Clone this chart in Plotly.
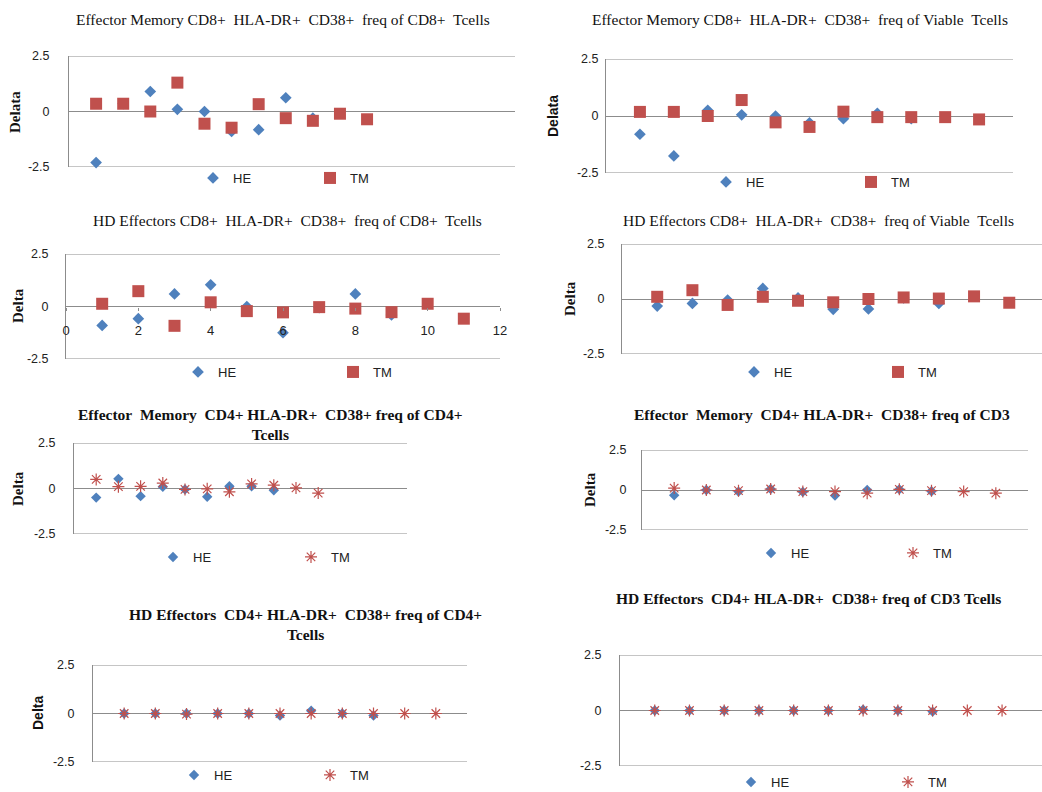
import plotly.graph_objects as go

W, H = 1042, 792

# ---------------- data ----------------
subjects_he = [1, 2, 3, 4, 5, 6, 7, 8, 9]
subjects_tm = [1, 2, 3, 4, 5, 6, 7, 8, 9, 10, 11]

em_cd8_of_cd8_he = [-2.3, 0.35, 0.9, 0.1, 0.0, -0.9, -0.82, 0.62, -0.3]
em_cd8_of_cd8_tm = [0.35, 0.35, 0.0, 1.3, -0.55, -0.73, 0.33, -0.3, -0.42, -0.1, -0.35]

em_cd8_of_viable_he = [-0.8, -1.75, 0.25, 0.05, 0.0, -0.3, -0.12, 0.12, -0.12]
em_cd8_of_viable_tm = [0.18, 0.18, 0.0, 0.7, -0.28, -0.48, 0.19, -0.05, -0.05, -0.05, -0.15]

hd_cd8_of_cd8_he = [-0.9, -0.58, 0.6, 1.03, 0.0, -1.25, -0.05, 0.6, -0.4]
hd_cd8_of_cd8_tm = [0.13, 0.73, -0.92, 0.2, -0.22, -0.28, -0.03, -0.1, -0.27, 0.13, -0.58]

hd_cd8_of_viable_he = [-0.32, -0.2, -0.05, 0.48, 0.05, -0.47, -0.45, 0.05, -0.2]
hd_cd8_of_viable_tm = [0.1, 0.4, -0.27, 0.1, -0.08, -0.15, 0.0, 0.07, 0.02, 0.12, -0.17]

em_cd4_of_cd4_he = [-0.5, 0.53, -0.42, 0.1, -0.05, -0.45, 0.12, 0.12, -0.1]
em_cd4_of_cd4_tm = [0.5, 0.1, 0.12, 0.3, -0.05, -0.02, -0.18, 0.25, 0.18, 0.03, -0.25]

em_cd4_of_cd3_he = [-0.33, 0.0, -0.1, 0.06, -0.12, -0.35, 0.0, 0.04, -0.08]
em_cd4_of_cd3_tm = [0.12, 0.0, -0.04, 0.06, -0.1, -0.1, -0.2, 0.04, -0.04, -0.1, -0.2]

hd_cd4_of_cd4_he = [0.0, 0.0, 0.0, 0.0, 0.0, -0.1, 0.14, 0.0, -0.1]
hd_cd4_of_cd4_tm = [0.0, 0.0, -0.03, 0.0, 0.0, 0.0, 0.0, 0.0, 0.0, 0.0, 0.0]

hd_cd4_of_cd3_he = [0.0, 0.0, 0.0, 0.0, 0.0, 0.0, 0.04, 0.0, -0.05]
hd_cd4_of_cd3_tm = [0.0, 0.0, 0.0, 0.0, 0.0, 0.0, 0.0, 0.0, 0.0, 0.0, 0.0]

y_ticks = [-2.5, 0, 2.5]
y_ticktext = ["-2.5", "0", "2.5"]
y_limits = [-2.5, 2.5]
x_ticks_p3 = [0, 2, 4, 6, 8, 10, 12]

NB = "\u00a0"
titles = [
    f"Effector Memory CD8+{NB} HLA-DR+{NB} CD38+{NB} freq of CD8+{NB} Tcells",
    f"Effector Memory CD8+{NB} HLA-DR+{NB} CD38+{NB} freq of Viable{NB} Tcells",
    f"HD Effectors CD8+{NB} HLA-DR+{NB} CD38+{NB} freq of CD8+{NB} Tcells",
    f"HD Effectors CD8+{NB} HLA-DR+{NB} CD38+{NB} freq of Viable{NB} Tcells",
    f"Effector{NB} Memory{NB} CD4+ HLA-DR+{NB} CD38+ freq of CD4+<br>Tcells",
    f"Effector{NB} Memory{NB} CD4+ HLA-DR+{NB} CD38+ freq of CD3",
    f"HD Effectors{NB} CD4+ HLA-DR+{NB} CD38+ freq of CD4+<br>Tcells",
    f"HD Effectors{NB} CD4+ HLA-DR+{NB} CD38+ freq of CD3 Tcells",
]

series = [
    (em_cd8_of_cd8_he, em_cd8_of_cd8_tm),
    (em_cd8_of_viable_he, em_cd8_of_viable_tm),
    (hd_cd8_of_cd8_he, hd_cd8_of_cd8_tm),
    (hd_cd8_of_viable_he, hd_cd8_of_viable_tm),
    (em_cd4_of_cd4_he, em_cd4_of_cd4_tm),
    (em_cd4_of_cd3_he, em_cd4_of_cd3_tm),
    (hd_cd4_of_cd4_he, hd_cd4_of_cd4_tm),
    (hd_cd4_of_cd3_he, hd_cd4_of_cd3_tm),
]

# ---------------- layout specs (pixels) ----------------
SERIF = "Liberation Serif"
SANS = "Liberation Sans"
panels = [
    dict(l=69, r=515, t=56, b=167, xmax=16.46, tx=283, ty=19, tbold=False,
         yl=("Delata", 15, 112, SERIF), lg=(215, 332, 178), tm="square", so=16),
    dict(l=606, r=1013, t=59, b=173, xmax=12.0, tx=800, ty=19, tbold=False,
         yl=("Delata", 553, 116, SANS), lg=(728, 873, 182), tm="square", so=4),
    dict(l=66, r=500, t=254, b=359, xmax=12.0, tx=287, ty=221, tbold=False,
         yl=("Delta", 18, 306, SERIF), lg=(200, 355, 372), tm="square", so=14),
    dict(l=622, r=1042, t=244, b=354, xmax=11.93, tx=818, ty=221, tbold=False,
         yl=("Delta", 570, 299, SERIF), lg=(756, 900, 372), tm="square", so=14),
    dict(l=74, r=407, t=443, b=534, xmax=15.0, tx=270, ty=424, tbold=True,
         yl=("Delta", 18, 489, SERIF), lg=(175, 313, 557), tm="asterisk-open", so=15),
    dict(l=642, r=1028, t=450, b=530, xmax=12.0, tx=822, ty=414, tbold=True,
         yl=("Delta", 590, 490, SERIF), lg=(773, 915, 553), tm="asterisk-open", so=12),
    dict(l=93, r=467, t=665, b=762, xmax=12.0, tx=305, ty=624, tbold=True,
         yl=("Delta", 38, 713, SANS), lg=(196, 332, 775), tm="asterisk-open", so=15),
    dict(l=620, r=1042, t=655, b=766, xmax=12.15, tx=808, ty=598, tbold=True,
         yl=None, lg=(753, 910, 782), tm="asterisk-open", so=15),
]

HE_COLOR = "#4F81BD"
TM_COLOR = "#C0504D"
GRID = "#8C8C8C"

fig = go.Figure()
annotations = []
shapes = []
layout_axes = {}

for i, (p, (he, tm)) in enumerate(zip(panels, series), start=1):
    xa = "x" if i == 1 else f"x{i}"
    ya = "y" if i == 1 else f"y{i}"
    lg = "legend" if i == 1 else f"legend{i}"
    small = p["tm"] != "square"
    fig.add_trace(go.Scatter(
        x=subjects_he, y=he, mode="markers", name="HE", xaxis=xa, yaxis=ya, legend=lg,
        marker=dict(symbol="diamond", color=HE_COLOR, size=8 if small else 9,
                    line=dict(width=0)),
        cliponaxis=False, hoverinfo="skip",
    ))
    if small:
        tm_marker = dict(symbol="asterisk-open", color=TM_COLOR, size=10,
                         line=dict(width=1.2, color=TM_COLOR))
    else:
        tm_marker = dict(symbol="square", color=TM_COLOR, size=12, line=dict(width=0))
    fig.add_trace(go.Scatter(
        x=subjects_tm, y=tm, mode="markers", name="TM", xaxis=xa, yaxis=ya, legend=lg,
        marker=tm_marker, cliponaxis=False, hoverinfo="skip",
    ))

    xdom = [p["l"] / W, min(p["r"] / W, 1.0)]
    ydom = [1 - p["b"] / H, 1 - p["t"] / H]
    xkey = "xaxis" if i == 1 else f"xaxis{i}"
    ykey = "yaxis" if i == 1 else f"yaxis{i}"
    xaxis = dict(domain=xdom, range=[0, p["xmax"]], anchor=ya, showgrid=False,
                 zeroline=False, showline=False, showticklabels=False, fixedrange=True)
    if i == 3:
        zero_py = (p["t"] + p["b"]) / 2
        xaxis.update(showticklabels=True, tickvals=x_ticks_p3, anchor="free",
                     position=1 - zero_py / H, ticks="outside", ticklen=3,
                     tickcolor=GRID, ticklabelstandoff=9,
                     tickfont=dict(family=SANS, size=13, color="#222"))
    yaxis = dict(domain=ydom, range=y_limits, anchor=xa, tickvals=y_ticks,
                 ticktext=y_ticktext, showgrid=True, gridcolor=GRID, gridwidth=1,
                 zeroline=False, showline=True, linecolor=GRID, linewidth=1,
                 ticks="", ticklabelstandoff=p["so"],
                 tickfont=dict(family=SANS, size=12.5, color="#222"), fixedrange=True)
    layout_axes[xkey] = xaxis
    layout_axes[ykey] = yaxis

    # boundary gridlines at +/-2.5 (plotly skips grid at range ends)
    for yv in (y_limits[0], y_limits[1]):
        shapes.append(dict(type="line", xref=f"{xa} domain", yref=ya,
                           x0=0, x1=1, y0=yv, y1=yv, layer="below",
                           line=dict(color=GRID, width=1)))

    # title
    annotations.append(dict(
        text=f"<b>{titles[i-1]}</b>" if p["tbold"] else titles[i-1],
        x=p["tx"] / W, y=1 - p["ty"] / H, xref="paper", yref="paper",
        xanchor="center", yanchor="middle", showarrow=False,
        font=dict(family=SERIF, size=15.5, color="#111"),
    ))
    # y label
    if p["yl"]:
        txt, lx, ly, fam = p["yl"]
        annotations.append(dict(
            text=f"<b>{txt}</b>", x=lx / W, y=1 - ly / H, xref="paper", yref="paper",
            xanchor="center", yanchor="middle", showarrow=False, textangle=-90,
            font=dict(family=fam, size=15 if fam == SERIF else 14, color="#111"),
        ))
    # legend
    he_x, tm_x, leg_y = p["lg"]
    layout_axes[lg] = dict(
        orientation="h", x=(he_x - 22) / W, y=1 - leg_y / H, xanchor="left",
        yanchor="middle", entrywidth=tm_x - he_x - 45, entrywidthmode="pixels",
        itemwidth=30, bgcolor="rgba(0,0,0,0)", borderwidth=0,
        font=dict(family=SANS, size=13, color="#222"), itemclick=False,
        itemdoubleclick=False,
    )

fig.update_layout(
    width=W, height=H, autosize=False,
    margin=dict(l=0, r=0, t=0, b=0, pad=0, autoexpand=False),
    paper_bgcolor="white", plot_bgcolor="white", hovermode=False,
    showlegend=True, annotations=annotations, shapes=shapes,
    **layout_axes,
)

fig.write_html(
    "out.html",
    config={"displayModeBar": False, "staticPlot": False},
    post_script="document.body.style.margin='0';document.body.style.overflow='hidden';",
)
